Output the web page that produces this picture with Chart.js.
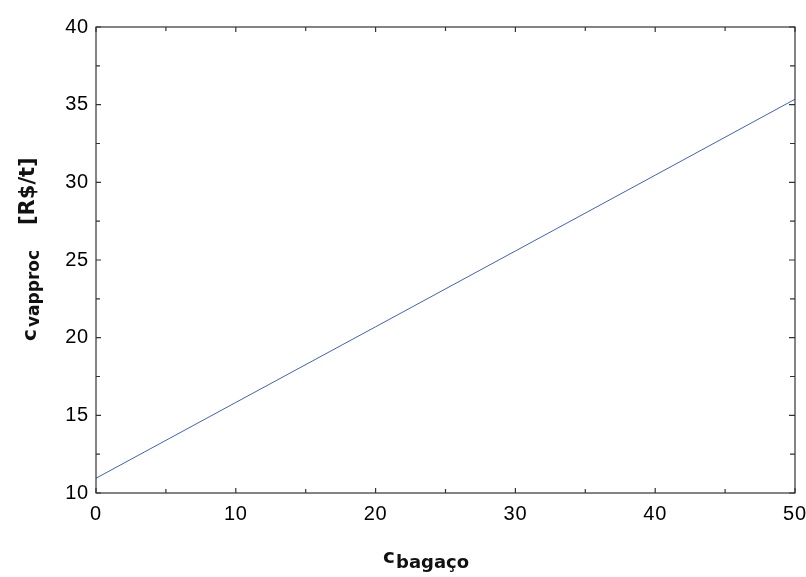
<!DOCTYPE html>
<html>
<head>
<meta charset="utf-8">
<script src="https://cdn.jsdelivr.net/npm/chart.js@4.4.1/dist/chart.umd.min.js"></script>
<style>
  html, body { margin: 0; padding: 0; background: #fff; }
  #wrap { width: 806px; height: 577px; }
</style>
</head>
<body>
<div id="wrap"><canvas id="chart" width="806" height="577"></canvas></div>
<script>
// values
const bagaco = [0, 10, 20, 30, 40, 50];
const vapproc = [10.95, 15.83, 20.7, 25.58, 30.46, 35.35];
const xTicks = [0, 10, 20, 30, 40, 50];
const yTicks = [10, 15, 20, 25, 30, 35, 40];
const xMinor = [5, 15, 25, 35, 45];
const yMinor = [12.5, 17.5, 22.5, 27.5, 32.5, 37.5];

const tickFont = { family: "'Liberation Sans', Arial, sans-serif", size: 20 };
const titleFace = "'DejaVu Sans', sans-serif";

// slightly wider tick labels, like the reference
const spacing = {
  id: "spacing",
  beforeDraw(c) { c.ctx.letterSpacing = "0.8px"; }
};

// box + inward ticks on all four sides, axis titles with subscripts
const frame = {
  id: "frame",
  afterDraw(c) {
    const ctx = c.ctx;
    const a = c.chartArea;
    const xs = c.scales.x, ys = c.scales.y;
    ctx.save();
    ctx.letterSpacing = "0px";
    ctx.strokeStyle = "#333";
    ctx.lineWidth = 1.2;
    ctx.strokeRect(a.left, a.top, a.right - a.left, a.bottom - a.top);
    ctx.beginPath();
    const xt = (v, len) => {
      const px = xs.getPixelForValue(v);
      ctx.moveTo(px, a.bottom); ctx.lineTo(px, a.bottom - len);
      ctx.moveTo(px, a.top); ctx.lineTo(px, a.top + len);
    };
    const yt = (v, len) => {
      const py = ys.getPixelForValue(v);
      ctx.moveTo(a.left, py); ctx.lineTo(a.left + len, py);
      ctx.moveTo(a.right, py); ctx.lineTo(a.right - len - 1, py);
    };
    xTicks.forEach(v => xt(v, 5));
    xMinor.forEach(v => xt(v, 4));
    yTicks.forEach(v => yt(v, 5));
    yMinor.forEach(v => yt(v, 4));
    ctx.stroke();

    ctx.fillStyle = "#111";
    ctx.textBaseline = "alphabetic";
    ctx.textAlign = "left";

    // x title
    ctx.font = "bold 20px " + titleFace;
    ctx.fillText("c", 383, 563);
    ctx.font = "bold 18px " + titleFace;
    ctx.fillText("bagaço", 396, 568);

    // y title (rotated)
    ctx.translate(36, 341);
    ctx.rotate(-Math.PI / 2);
    ctx.font = "bold 20px " + titleFace;
    ctx.fillText("c", 0, 0);
    ctx.font = "bold 17px " + titleFace;
    ctx.fillText("vapproc", 14, 3);
    ctx.font = "bold 21px " + titleFace;
    ctx.fillText("[R$/t]", 116, -2);
    ctx.restore();
  }
};

new Chart(document.getElementById("chart"), {
  type: "line",
  data: {
    datasets: [{
      data: bagaco.map((x, i) => ({ x, y: vapproc[i] })),
      borderColor: "#4060c0",
      borderWidth: 1,
      pointRadius: 0,
      fill: false,
      tension: 0
    }]
  },
  options: {
    responsive: false,
    animation: false,
    layout: { padding: { top: 27, right: 11, left: 0, bottom: 0 } },
    plugins: { legend: { display: false }, tooltip: { enabled: false } },
    scales: {
      x: {
        type: "linear",
        min: 0, max: 50,
        afterBuildTicks: s => { s.ticks = xTicks.map(v => ({ value: v })); },
        afterFit: s => { s.height = 84; s.paddingLeft = 0; s.paddingRight = 0; },
        grid: { display: false, drawTicks: false },
        border: { display: false },
        ticks: { font: tickFont, color: "#000", padding: 9, maxRotation: 0 }
      },
      y: {
        type: "linear",
        min: 10, max: 40,
        afterBuildTicks: s => { s.ticks = yTicks.map(v => ({ value: v })); },
        afterFit: s => { s.width = 96; s.paddingTop = 0; s.paddingBottom = 0; },
        grid: { display: false, drawTicks: false },
        border: { display: false },
        ticks: { font: tickFont, color: "#000", padding: 7 }
      }
    }
  },
  plugins: [spacing, frame]
});
</script>
</body>
</html>
